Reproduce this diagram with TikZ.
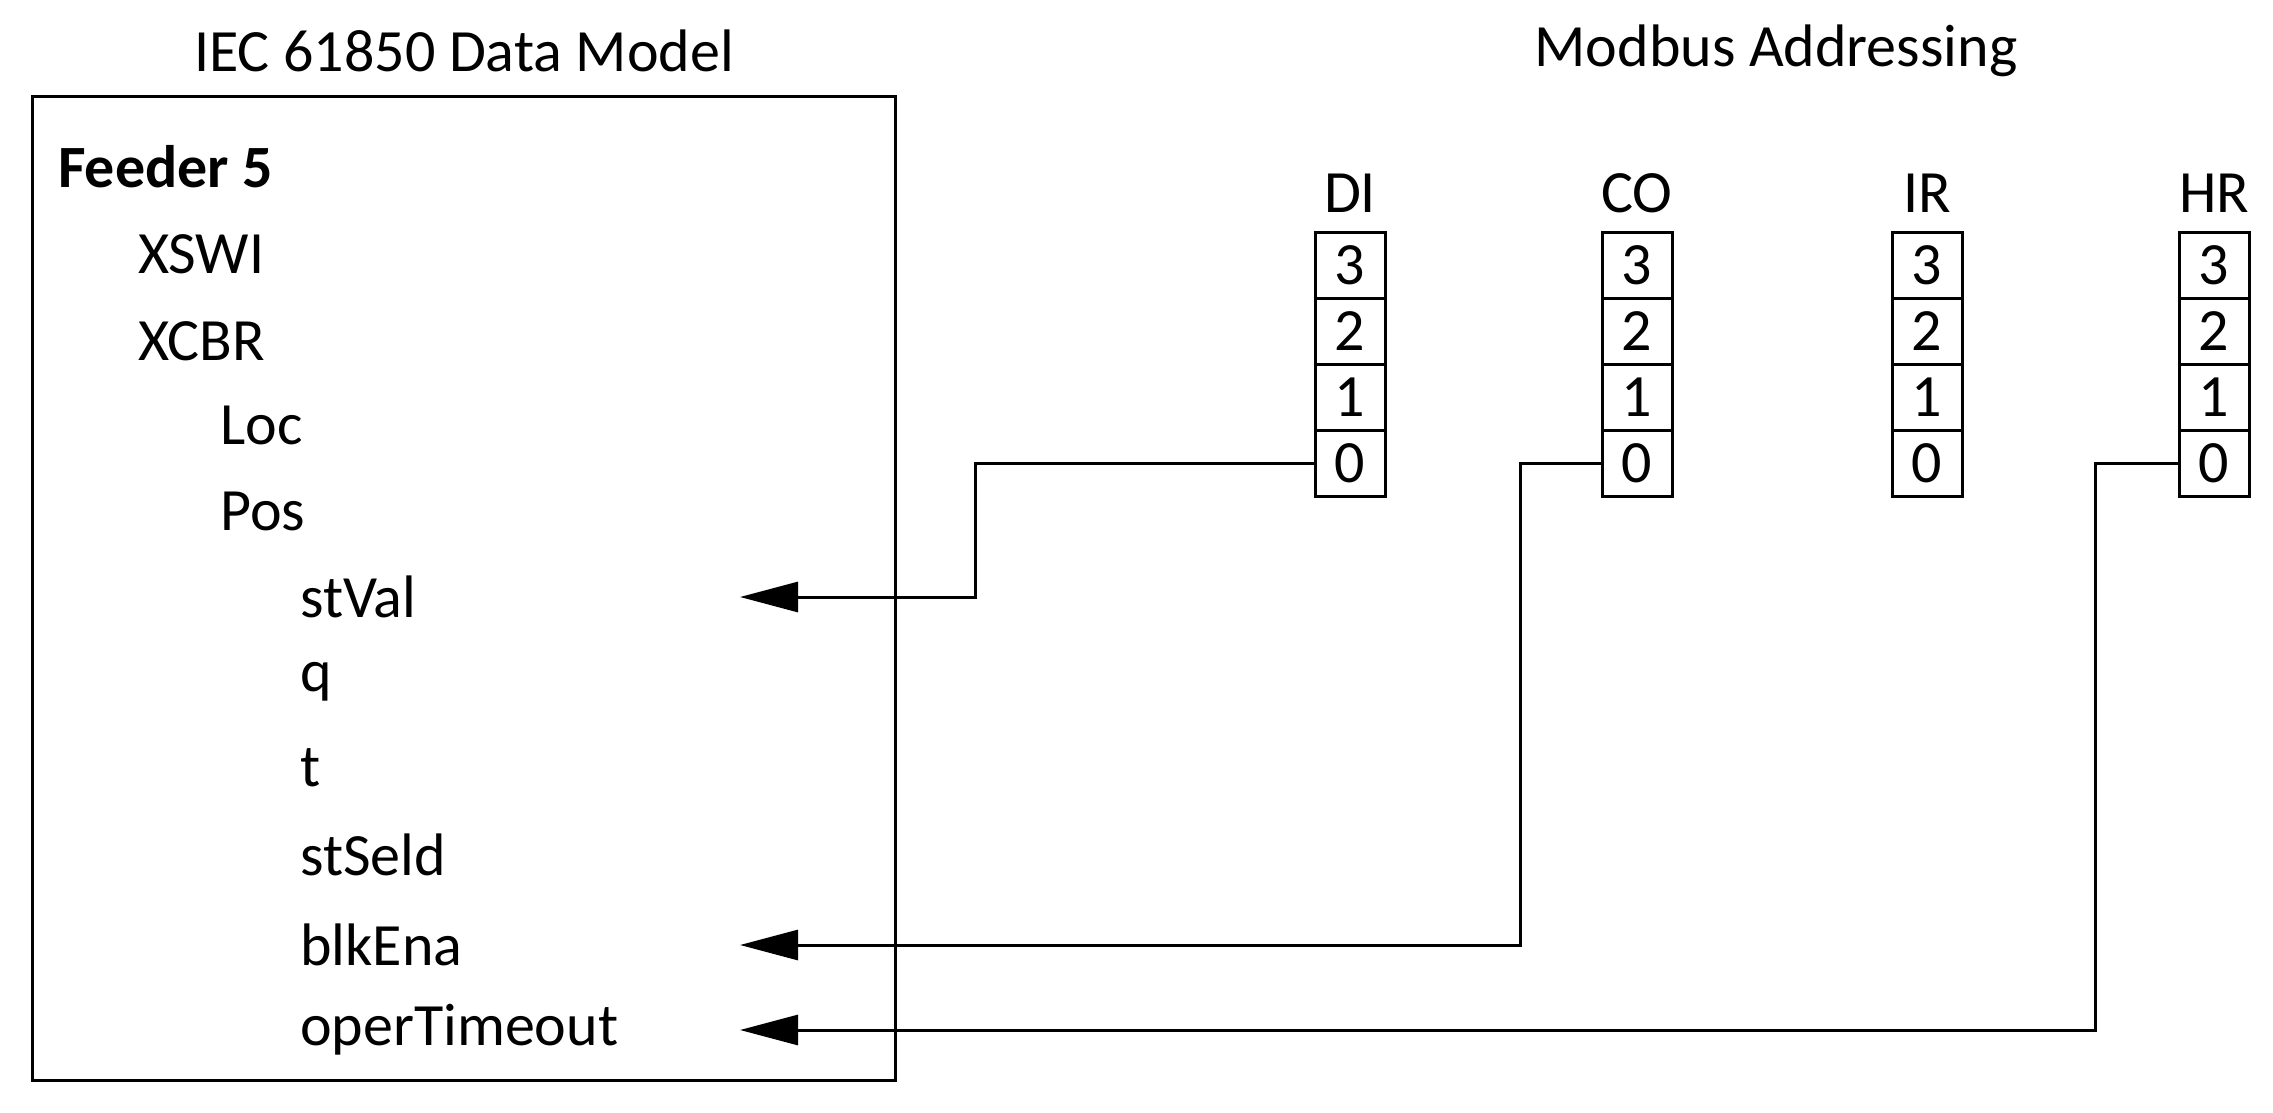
\documentclass[tikz,border=0pt]{standalone}
\usepackage{fontspec}
\setmainfont{Carlito}
\usetikzlibrary{arrows.meta}
\begin{document}
\begin{tikzpicture}[x=1pt,y=-1pt,
  txt/.style={anchor=west,inner sep=0pt,font=\fontsize{60}{70}\selectfont},
  ttl/.style={inner sep=0pt,font=\fontsize{60}{70}\selectfont},
  cell/.style={draw,line width=3pt,minimum width=70pt,minimum height=66pt,inner sep=0pt,font=\fontsize{60}{70}\selectfont},
  con/.style={line width=3pt,-{Triangle[length=58pt,width=30pt]}}]
\useasboundingbox (0,0) rectangle (2273,1113);
\node[ttl] (t1) at (464,51) {IEC 61850 Data Model};
\node[ttl] (t2) at (1776,51) {Modbus Addressing};
\draw[line width=3pt] (32,97) rectangle (895,1080);
\node[txt,font=\fontsize{60}{70}\selectfont\bfseries] (f5) at (58,167) {Feeder 5};
\node[txt] (xswi) at (138,254) {XSWI};
\node[txt] (xcbr) at (138,341) {XCBR};
\node[txt] (loc) at (220,425) {Loc};
\node[txt] (pos) at (220,511) {Pos};
\node[txt] (stval) at (300,597) {stVal};
\node[txt] (q) at (300,682) {q};
\node[txt] (t) at (300,768) {t};
\node[txt] (stseld) at (300,855) {stSeld};
\node[txt] (blk) at (300,945) {blkEna};
\node[txt] (oper) at (300,1030) {operTimeout};
\coordinate (a1) at (740,597);
\coordinate (a2) at (740,945);
\coordinate (a3) at (740,1030);
\foreach \n/\lab/\x in {di/DI/1350,co/CO/1637,ir/IR/1927,hr/HR/2214}{
  \node[ttl] (\n l) at (\x,193) {\lab};
  \node[cell] (\n3) at (\x,265) {3};
  \node[cell] (\n2) at (\x,331) {2};
  \node[cell] (\n1) at (\x,397) {1};
  \node[cell] (\n0) at (\x,463) {0};
}
\draw[con] (di0.west) -| (975,597) -- (a1);
\draw[con] (co0.west) -| (1520,945) -- (a2);
\draw[con] (hr0.west) -| (2095,1030) -- (a3);
\end{tikzpicture}
\end{document}
